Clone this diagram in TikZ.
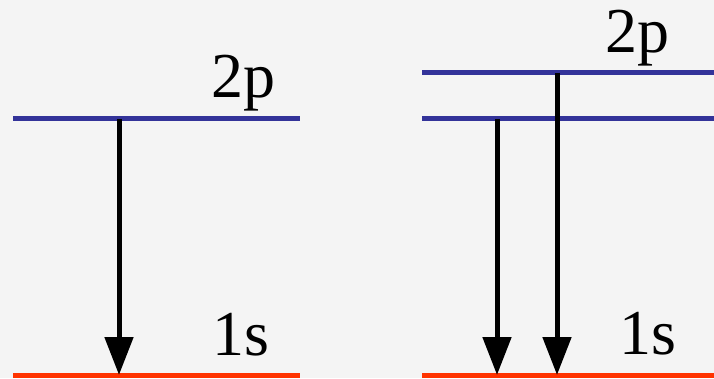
\documentclass[tikz,border=0pt]{standalone}
\usepackage{fontspec}
\setmainfont{Liberation Serif}
\usetikzlibrary{arrows.meta}
\definecolor{levelblue}{HTML}{333399}
\definecolor{levelred}{HTML}{FF3300}
\definecolor{bg}{HTML}{F4F4F4}
\tikzset{
  bluelevel/.style={draw=levelblue,line width=5pt},
  redlevel/.style={draw=levelred,line width=5pt},
  transition/.style={draw=black,line width=5pt,-{Triangle[width=28pt,length=38pt]}},
  lbl/.style={anchor=base west,inner sep=0pt,font=\fontsize{64}{64}\selectfont}
}
\begin{document}
\begin{tikzpicture}[x=1pt,y=1pt]
\fill[bg] (0,0) rectangle (714,378);
\useasboundingbox (0,0) rectangle (714,378);
% left panel
\coordinate (L2a) at (13,259); \coordinate (L2b) at (300,259);
\coordinate (L1a) at (13,3); \coordinate (L1b) at (300,3);
\draw[bluelevel] (L2a) -- (L2b);
\draw[redlevel] (L1a) -- (L1b);
\coordinate (la) at (119,259); \coordinate (lb) at (119,3);
\draw[transition] (la) -- (lb);
\node[lbl] (l2p) at (211,280) {2p};
\node[lbl] (l1s) at (212,23) {1s};
% right panel
\coordinate (R2ua) at (422,305); \coordinate (R2ub) at (714,305);
\coordinate (R2la) at (422,259); \coordinate (R2lb) at (714,259);
\coordinate (R1a) at (422,3); \coordinate (R1b) at (714,3);
\draw[bluelevel] (R2ua) -- (R2ub);
\draw[bluelevel] (R2la) -- (R2lb);
\draw[redlevel] (R1a) -- (R1b);
\coordinate (ra) at (497,259); \coordinate (rb) at (497,3);
\coordinate (rc) at (557,305); \coordinate (rd) at (557,3);
\draw[transition] (ra) -- (rb);
\draw[transition] (rc) -- (rd);
\node[lbl] (r2p) at (605,325) {2p};
\node[lbl] (r1s) at (619,24) {1s};
\end{tikzpicture}
\end{document}
